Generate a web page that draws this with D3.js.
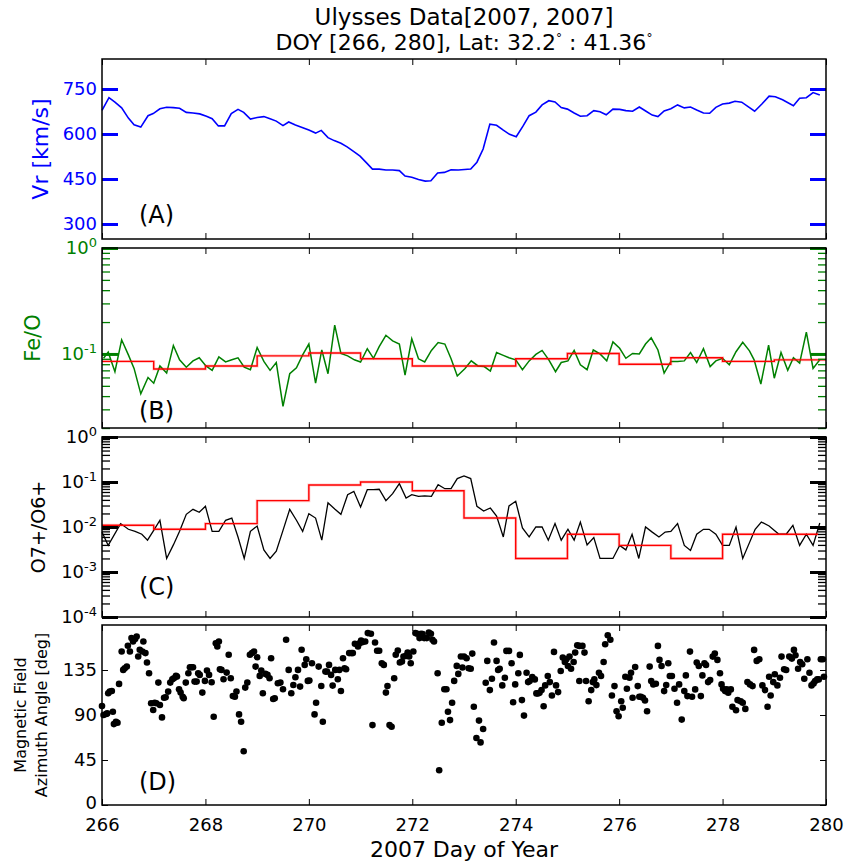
<!DOCTYPE html>
<html><head><meta charset="utf-8">
<script src="https://cdn.jsdelivr.net/npm/d3@7"></script>
<style>body{margin:0;background:#fff} text{font-family:"DejaVu Sans",sans-serif}</style>
</head><body><svg id="c" width="849" height="863"></svg>
<script>
// ---------------- DATA ----------------
const xTickDays = [266,268,270,272,274,276,278,280];
const vrTicks = [300,450,600,750];
const feoMajor = [1,0.1];
const o7Major = [1,0.1,0.01,0.001,0.0001];
const magTicks = [0,45,90,135];

const vrDays = [266.0,266.135,266.25,266.38,266.51,266.62,266.75,266.89,266.99,267.12,267.25,267.38,267.5,267.63,267.76,267.89,268.02,268.13,268.25,268.37,268.5,268.63,268.74,268.87,269.0,269.13,269.25,269.37,269.5,269.61,269.74,269.87,270.0,270.13,270.24,270.37,270.49,270.62,270.74,270.87,270.99,271.12,271.23,271.36,271.49,271.62,271.75,271.86,271.99,272.12,272.25,272.36,272.49,272.62,272.75,272.89,273.13,273.25,273.37,273.5,273.63,273.76,273.88,274.01,274.14,274.26,274.39,274.51,274.64,274.76,274.88,275.0,275.13,275.25,275.38,275.51,275.63,275.75,275.88,276.01,276.13,276.26,276.39,276.52,276.64,276.75,276.87,277.0,277.13,277.26,277.38,277.5,277.63,277.75,277.87,278.0,278.13,278.24,278.37,278.62,278.76,278.9,279.02,279.16,279.37,279.49,279.62,279.75,279.88];
const vrValues = [679,721,706,687,653,631,623,661,668,684,689,688,686,672,670,667,659,651,627,627,668,682,672,650,655,658,651,643,628,640,630,622,613,603,612,588,578,569,557,541,526,503,483,483,480,480,478,460,456,448,443,444,470,472,481,480,483,506,550,633,629,613,599,591,626,661,673,697,711,707,688,683,670,659,661,678,674,664,683,682,678,676,690,676,663,658,677,684,697,687,690,680,670,669,689,700,703,709,706,676,700,726,724,714,694,719,721,738,730];

const feoDays = [266.03,266.12,266.25,266.38,266.51,266.62,266.75,266.89,267.0,267.12,267.25,267.38,267.5,267.63,267.76,267.88,268.01,268.13,268.26,268.39,268.51,268.63,268.75,268.87,269.0,269.13,269.25,269.37,269.5,269.63,269.76,269.88,270.0,270.13,270.25,270.37,270.5,270.62,270.75,270.88,271.0,271.13,271.25,271.36,271.49,271.62,271.75,271.86,271.99,272.12,272.24,272.37,272.5,272.63,272.75,272.87,273.02,273.14,273.27,273.39,273.51,273.63,273.76,273.87,274.0,274.13,274.26,274.39,274.51,274.64,274.77,274.88,275.01,275.13,275.25,275.38,275.5,275.63,275.76,275.88,276.01,276.13,276.26,276.39,276.51,276.62,276.75,276.87,277.0,277.13,277.26,277.38,277.5,277.63,277.76,277.87,278.0,278.13,278.26,278.39,278.52,278.61,278.74,278.89,279.0,279.13,279.26,279.37,279.49,279.62,279.75,279.88];
const feoValues = [0.091,0.104,0.068,0.136,0.098,0.073,0.042,0.060,0.053,0.077,0.066,0.12,0.088,0.075,0.086,0.092,0.077,0.070,0.094,0.084,0.088,0.092,0.075,0.071,0.115,0.085,0.070,0.083,0.032,0.065,0.074,0.098,0.124,0.053,0.109,0.065,0.187,0.101,0.096,0.088,0.084,0.112,0.091,0.117,0.150,0.133,0.124,0.063,0.139,0.090,0.084,0.108,0.128,0.124,0.090,0.062,
0.073,0.086,0.077,0.076,0.069,0.103,0.097,0.092,0.088,0.071,0.086,0.099,0.108,0.088,0.068,0.083,0.086,0.108,0.079,0.071,0.109,0.100,0.086,0.130,0.113,0.091,0.101,0.100,0.124,0.142,0.109,0.066,0.085,0.085,0.086,0.103,0.083,0.112,0.076,0.086,0.091,0.079,0.105,0.129,0.107,0.088,0.052,0.121,0.059,0.103,0.070,0.092,0.082,0.161,0.073,0.088];

const feoAvgDays = [266,267,268,269,270,271,272,273,274,275,276,277,278,279,280];
const feoAvgValues = [0.085,0.072,0.077,0.096,0.102,0.090,0.077,0.077,0.090,0.101,0.080,0.092,0.085,0.088,0.088];

const o7Data = [[266.0,0.0077],[266.12,0.0039],[266.36,0.0119],[266.51,0.0089],[266.64,0.0080],[266.77,0.0069],[266.88,0.0051],[267.0,0.0084],[267.12,0.0141],[267.25,0.0020],[267.38,0.0040],[267.5,0.0080],[267.63,0.0191],[267.76,0.0247],[267.88,0.0212],[268.0,0.0288],[268.13,0.0080],[268.26,0.0080],[268.39,0.0141],[268.51,0.0158],[268.63,0.0060],[268.75,0.0020],[268.87,0.0080],[269.0,0.0105],[269.13,0.0031],[269.25,0.0020],[269.37,0.0029],[269.5,0.0084],[269.63,0.0247],[269.76,0.0141],[269.88,0.0080],[270.0,0.0198],[270.13,0.0158],[270.25,0.0051],[270.37,0.0347],[270.5,0.0251],[270.62,0.0191],[270.75,0.0523],[270.87,0.0621],[271.0,0.0278],[271.13,0.0676],[271.25,0.0676],[271.36,0.069],[271.49,0.0385],[271.62,0.055],[271.75,0.092],[271.88,0.044],[271.99,0.0523],[272.12,0.048],[272.24,0.049],[272.37,0.048],[272.5,0.087],[272.63,0.071],[272.75,0.071],[272.87,0.119],[273.0,0.136],[273.13,0.119],[273.25,0.0288],[273.38,0.0227],[273.51,0.0264],[273.63,0.0175],[273.76,0.0060],[273.87,0.0293],[274.0,0.0372],[274.13,0.0095],[274.26,0.0060],[274.39,0.0100],[274.51,0.0100],[274.63,0.0051],[274.76,0.0119],[274.88,0.0051],[275.01,0.0089],[275.13,0.0051],[275.25,0.0129],[275.38,0.0040],[275.51,0.0058],[275.63,0.0020],[275.76,0.0020],[275.88,0.0020],[276.01,0.0039],[276.13,0.0031],[276.25,0.0069],[276.38,0.0020],[276.51,0.0100],[276.64,0.0077],[276.77,0.0060],[276.89,0.0077],[277.0,0.0080],[277.13,0.0119],[277.26,0.0039],[277.38,0.0030],[277.5,0.0069],[277.63,0.0089],[277.74,0.0089],[277.87,0.0069],[278.0,0.0039],[278.13,0.0039],[278.26,0.0100],[278.39,0.0020],[278.63,0.0089],[278.75,0.0129],[278.9,0.0105],[279.09,0.0069],[279.23,0.0069],[279.36,0.0109],[279.49,0.0039],[279.62,0.0069],[279.75,0.0039],[279.88,0.0123]];

const o7AvgDays = [266,267,268,269,270,271,272,273,274,275,276,277,278,279,279.85];
const o7AvgValues = [0.0109,0.0089,0.0119,0.0385,0.0858,0.100,0.064,0.0158,0.0020,0.0069,0.0039,0.0020,0.0069,0.0069,0.0069];

const magData = [[266.00,99.0],[266.03,90.0],[266.08,91.0],[266.10,91.6],[266.12,111.7],[266.15,113.4],[266.19,114.0],[266.21,93.3],[266.23,80.9],[266.27,83.3],[266.30,82.3],[266.33,121.1],[266.38,153.5],[266.41,135.1],[266.44,136.8],[266.48,138.4],[266.50,159.2],[266.54,153.5],[266.57,166.9],[266.60,163.5],[266.64,165.9],[266.67,168.5],[266.70,148.5],[266.73,155.2],[266.78,153.5],[266.80,163.5],[266.84,151.9],[266.87,142.5],[266.91,131.8],[266.95,101.7],[266.99,95.0],[267.02,102.3],[267.05,101.7],[267.09,122.4],[267.12,100.0],[267.16,87.6],[267.20,107.3],[267.23,107.7],[267.28,113.4],[267.32,122.4],[267.36,125.7],[267.39,126.7],[267.43,129.1],[267.45,128.4],[267.49,115.7],[267.52,112.4],[267.56,108.3],[267.58,106.7],[267.62,122.4],[267.67,131.8],[267.70,137.8],[267.73,137.8],[267.76,137.8],[267.79,123.4],[267.83,123.4],[267.86,131.8],[267.89,130.1],[267.94,112.4],[267.99,124.1],[268.03,134.4],[268.07,130.1],[268.12,122.7],[268.16,88.3],[268.20,161.8],[268.23,158.5],[268.26,163.5],[268.28,135.8],[268.31,135.1],[268.35,125.7],[268.41,132.4],[268.45,150.2],[268.49,126.7],[268.53,109.0],[268.57,108.3],[268.60,113.4],[268.65,90.6],[268.69,83.3],[268.74,53.8],[268.77,117.4],[268.81,122.4],[268.86,150.2],[268.90,151.9],[268.94,153.5],[268.97,138.4],[269.00,147.8],[269.05,129.1],[269.08,134.4],[269.11,111.7],[269.16,131.1],[269.20,130.1],[269.24,126.7],[269.27,146.8],[269.31,106.0],[269.34,106.7],[269.40,121.7],[269.45,122.4],[269.50,115.7],[269.56,165.2],[269.61,135.1],[269.66,111.7],[269.70,120.0],[269.74,127.7],[269.79,135.1],[269.83,118.4],[269.86,155.2],[269.92,140.1],[269.95,145.8],[269.98,124.1],[270.01,124.4],[270.06,141.8],[270.11,90.6],[270.14,102.3],[270.19,138.4],[270.24,119.0],[270.27,83.3],[270.32,133.4],[270.35,133.4],[270.39,140.1],[270.43,130.1],[270.46,119.4],[270.51,135.1],[270.56,125.7],[270.59,135.1],[270.62,114.0],[270.66,146.8],[270.69,136.8],[270.72,135.8],[270.78,151.9],[270.82,151.9],[270.85,151.9],[270.89,161.2],[270.95,158.5],[270.98,161.8],[271.01,164.5],[271.04,162.9],[271.09,163.5],[271.14,171.9],[271.20,171.2],[271.23,79.9],[271.28,162.5],[271.32,154.2],[271.36,154.2],[271.41,141.8],[271.45,140.1],[271.49,112.4],[271.52,119.0],[271.56,79.9],[271.60,78.2],[271.65,126.7],[271.68,150.2],[271.72,154.5],[271.76,142.5],[271.80,143.5],[271.83,148.5],[271.88,149.1],[271.91,152.5],[271.94,148.5],[271.97,141.8],[272.02,153.5],[272.06,171.9],[272.10,171.2],[272.14,166.9],[272.17,171.2],[272.20,170.9],[272.23,166.9],[272.28,166.9],[272.32,172.5],[272.36,171.2],[272.39,165.2],[272.42,163.5],[272.49,131.8],[272.52,34.8],[272.57,82.3],[272.62,115.7],[272.66,115.7],[272.69,93.3],[272.73,84.9],[272.77,102.3],[272.81,124.1],[272.86,139.1],[272.89,131.1],[272.94,148.5],[272.97,137.5],[273.00,148.5],[273.05,146.8],[273.09,136.8],
[273.13,136.3],[273.16,151.4],[273.19,98.2],[273.24,67.0],[273.29,84.4],[273.32,62.6],[273.37,76.0],[273.42,122.3],[273.45,144.1],[273.50,114.9],[273.54,126.3],[273.58,162.5],[273.63,144.1],[273.66,135.0],[273.69,136.3],[273.74,119.6],[273.79,127.3],[273.82,154.1],[273.87,154.1],[273.92,141.7],[273.95,102.8],[273.99,120.6],[274.05,131.7],[274.08,150.1],[274.12,104.9],[274.16,89.4],[274.21,132.3],[274.24,122.9],[274.27,124.0],[274.32,128.0],[274.37,125.6],[274.40,111.6],[274.43,111.6],[274.46,112.2],[274.50,114.9],[274.54,98.8],[274.57,119.6],[274.62,129.0],[274.66,122.9],[274.70,109.5],[274.74,153.1],[274.78,119.6],[274.82,112.9],[274.87,134.0],[274.91,147.4],[274.95,143.0],[274.98,145.7],[275.01,139.0],[275.04,148.4],[275.07,136.3],[275.12,143.0],[275.15,152.4],[275.19,159.8],[275.23,159.1],[275.29,159.1],[275.33,152.4],[275.23,124.0],[275.36,124.0],[275.41,103.8],[275.46,114.9],[275.49,122.9],[275.52,125.6],[275.56,119.9],[275.61,132.3],[275.65,129.0],[275.70,143.0],[275.73,160.8],[275.78,169.8],[275.83,165.2],[275.86,109.5],[275.91,118.9],[275.95,93.8],[275.99,88.8],[276.04,103.8],[276.07,97.2],[276.12,128.3],[276.15,116.2],[276.20,127.3],[276.23,132.3],[276.26,107.2],[276.31,138.0],[276.36,118.9],[276.39,108.2],[276.42,108.2],[276.46,107.2],[276.50,104.5],[276.54,93.8],[276.59,138.4],[276.62,124.0],[276.66,120.6],[276.71,121.3],[276.75,159.1],[276.78,145.1],[276.82,139.0],[276.87,113.9],[276.91,119.9],[276.95,141.7],[276.98,129.0],[277.02,129.0],[277.07,116.2],[277.12,102.2],[277.16,120.6],[277.21,85.4],[277.26,113.9],[277.29,129.6],[277.32,108.9],[277.37,153.4],[277.41,108.2],[277.47,115.6],[277.50,142.4],[277.54,139.0],[277.58,108.9],[277.61,129.6],[277.65,141.7],[277.68,140.0],[277.72,122.9],[277.76,124.9],[277.81,148.4],[277.85,151.4],[277.90,145.1],[277.95,131.7],[277.98,120.6],[278.01,116.2],[278.05,113.9],[278.08,115.6],[278.11,112.2],[278.16,115.6],[278.19,98.2],[278.26,94.8],[278.29,104.9],[278.35,103.8],[278.39,102.2],[278.44,96.1],[278.48,122.9],[278.53,120.6],[278.58,118.9],[278.61,155.1],[278.66,144.1],[278.71,145.7],[278.77,119.6],[278.82,114.9],[278.87,98.2],[278.90,128.3],[278.93,109.5],[278.98,122.9],[279.01,130.7],[279.06,119.6],[279.11,127.3],[279.14,148.4],[279.19,135.7],[279.23,135.0],[279.29,148.4],[279.34,146.4],[279.38,155.1],[279.41,149.7],[279.46,136.3],[279.50,143.0],[279.54,140.7],[279.58,126.3],[279.64,145.7],[279.68,132.3],[279.72,119.6],[279.76,121.6],[279.79,124.0],[279.83,125.6],[279.86,125.6],[279.90,145.7],[279.94,145.7],[279.96,128.3]];

// ---------------- LAYOUT ----------------
const svg = d3.select("#c");
const L = 102, R = 826, PH = 180;
const tops = [59, 248, 437, 625];
const FONT = '"DejaVu Sans", sans-serif';
const x = d3.scaleLinear().domain([266, 280]).range([L, R]);

const yA = d3.scaleLinear().domain([250, 850]).range([tops[0] + PH, tops[0]]);
const yB = d3.scaleLog().domain([0.02, 1]).range([tops[1] + PH, tops[1]]);
const yC = d3.scaleLog().domain([1e-4, 1]).range([tops[2] + PH, tops[2]]);
const yD = d3.scaleLinear().domain([0, 180]).range([tops[3] + PH, tops[3]]);

function minorLog(lo, hi) {
  const out = [];
  for (let e = lo; e < hi; e++) for (let m = 2; m <= 9; m++) out.push(m * Math.pow(10, e));
  return out;
}

function styleAxis(g, color, width, fs) {
  g.select(".domain").remove();
  g.attr("font-family", FONT).attr("font-size", fs || 18);
  g.selectAll(".tick line").attr("stroke", color).attr("stroke-width", width);
  g.selectAll(".tick text").attr("fill", color);
}

function supLabels(g) {
  g.selectAll(".tick text").each(function (d) {
    const t = d3.select(this);
    const e = Math.round(Math.log10(d));
    t.text(null);
    t.append("tspan").text("10");
    t.append("tspan").attr("dy", "-0.55em").attr("font-size", 13).text(String(e));
  });
}

function xAxes(i, labels) {
  const top = tops[i], bot = tops[i] + PH;
  const gb = svg.append("g").attr("transform", `translate(0,${bot})`)
    .call(d3.axisBottom(x).tickValues(xTickDays).tickSize(-6).tickPadding(labels ? 13 : 0)
      .tickFormat(labels ? d3.format("d") : ""));
  styleAxis(gb, "#000", 1, 18);
  const gt = svg.append("g").attr("transform", `translate(0,${top})`)
    .call(d3.axisTop(x).tickValues(xTickDays).tickSize(-6).tickFormat(""));
  styleAxis(gt, "#000", 1);
}

function yAxes(y, major, minor, color, majW, majLen, fmt, sup) {
  const gl = svg.append("g").attr("transform", `translate(${L},0)`)
    .call(d3.axisLeft(y).tickValues(major).tickSize(-majLen).tickPadding(5).tickFormat(fmt));
  styleAxis(gl, color, majW, 18);
  if (sup) supLabels(gl);
  const gr = svg.append("g").attr("transform", `translate(${R},0)`)
    .call(d3.axisRight(y).tickValues(major).tickSize(-majLen).tickFormat(""));
  styleAxis(gr, color, majW);
  if (minor) {
    const ml = svg.append("g").attr("transform", `translate(${L},0)`)
      .call(d3.axisLeft(y).tickValues(minor).tickSize(-8).tickFormat(""));
    styleAxis(ml, color, 1.3);
    const mr = svg.append("g").attr("transform", `translate(${R},0)`)
      .call(d3.axisRight(y).tickValues(minor).tickSize(-8).tickFormat(""));
    styleAxis(mr, color, 1.3);
  }
  return gl;
}

// ---------- Panel A ----------
svg.append("path")
  .datum(d3.zip(vrDays, vrValues))
  .attr("fill", "none").attr("stroke", "#0000ff").attr("stroke-width", 1.6)
  .attr("d", d3.line().x(d => x(d[0])).y(d => yA(d[1])));
yAxes(yA, vrTicks, null, "#0000ff", 3, 16, d3.format("d"), false);
xAxes(0, false);

// ---------- Panel B ----------
svg.append("path")
  .datum(d3.zip(feoDays, feoValues))
  .attr("fill", "none").attr("stroke", "#008000").attr("stroke-width", 1.5)
  .attr("d", d3.line().x(d => x(d[0])).y(d => yB(d[1])));
const stepB = d3.line().curve(d3.curveStepAfter).x(d => x(d[0])).y(d => yB(d[1]));
const feoAvg = d3.zip(feoAvgDays, feoAvgValues);
svg.append("path").datum(feoAvg).attr("fill", "none").attr("stroke", "#ff0000")
  .attr("stroke-opacity", 0.2).attr("stroke-width", 3).attr("d", stepB);
svg.append("path").datum(feoAvg).attr("fill", "none").attr("stroke", "#ff0000")
  .attr("stroke-width", 1.4).attr("d", stepB);
yAxes(yB, feoMajor, minorLog(-2, 0).filter(v => v > 0.0199), "#008000", 3, 16, d => d, true);
xAxes(1, false);

// ---------- Panel C ----------
svg.append("path")
  .datum(o7Data)
  .attr("fill", "none").attr("stroke", "#000").attr("stroke-width", 1.3)
  .attr("d", d3.line().x(d => x(d[0])).y(d => yC(d[1])));
const stepC = d3.line().curve(d3.curveStepAfter).x(d => x(d[0])).y(d => yC(d[1]));
const o7Avg = d3.zip(o7AvgDays, o7AvgValues);
svg.append("path").datum(o7Avg).attr("fill", "none").attr("stroke", "#ff0000")
  .attr("stroke-opacity", 0.2).attr("stroke-width", 3).attr("d", stepC);
svg.append("path").datum(o7Avg).attr("fill", "none").attr("stroke", "#ff0000")
  .attr("stroke-width", 1.4).attr("d", stepC);
yAxes(yC, o7Major, minorLog(-4, 0), "#000", 3, 16, d => d, true);
xAxes(2, false);

// ---------- Panel D ----------
svg.append("g").selectAll("circle").data(magData).join("circle")
  .attr("cx", d => x(d[0])).attr("cy", d => yD(d[1])).attr("r", 3.3).attr("fill", "#000");
const gD = yAxes(yD, magTicks, null, "#000", 1, 6, d3.format("d"), false);
gD.selectAll(".tick text").filter(d => d === 0).attr("dy", "0.2em");
xAxes(3, true);

// ---------- Frames ----------
tops.forEach(t => {
  svg.append("rect").attr("x", L).attr("y", t).attr("width", R - L).attr("height", PH)
    .attr("fill", "none").attr("stroke", "#000").attr("stroke-width", 1.5);
});

// ---------- Texts ----------
function vlabel(txt, xb, yc, fs, color) {
  svg.append("text").attr("transform", `translate(${xb},${yc}) rotate(-90)`)
    .attr("text-anchor", "middle").attr("font-size", fs).attr("fill", color)
    .attr("font-family", FONT).text(txt);
}
vlabel("Vr [km/s]", 48, tops[0] + PH / 2, 22, "#0000ff");
vlabel("Fe/O", 40, tops[1] + PH / 2, 21, "#008000");
vlabel("O7+/O6+", 45, tops[2] + PH / 2, 19, "#000");
vlabel("Magnetic Field", 26, tops[3] + PH / 2, 16, "#000");
vlabel("Azimuth Angle [deg]", 47, tops[3] + PH / 2, 16, "#000");

const panelLetters = ["(A)", "(B)", "(C)", "(D)"];
const letterOffsets = [16, 9, 22, 15];
panelLetters.forEach((s, i) => {
  svg.append("text").attr("x", 139).attr("y", tops[i] + PH - letterOffsets[i])
    .attr("font-size", 24).attr("font-family", FONT).attr("fill", "#000").text(s);
});

const cx = (L + R) / 2;
svg.append("text").attr("x", cx).attr("y", 25).attr("text-anchor", "middle")
  .attr("font-size", 23).attr("font-family", FONT).text("Ulysses Data[2007, 2007]");
const t2 = svg.append("text").attr("x", cx).attr("y", 50).attr("text-anchor", "middle")
  .attr("font-size", 22).attr("font-family", FONT);
t2.append("tspan").text("DOY [266, 280], Lat: 32.2");
t2.append("tspan").attr("dy", -8).attr("font-size", 12).text("\u00b0");
t2.append("tspan").attr("dy", 8).text(" : 41.36");
t2.append("tspan").attr("dy", -8).attr("font-size", 12).text("\u00b0");

svg.append("text").attr("x", cx).attr("y", 857).attr("text-anchor", "middle")
  .attr("font-size", 22).attr("font-family", FONT).text("2007 Day of Year");
</script>
</body></html>
